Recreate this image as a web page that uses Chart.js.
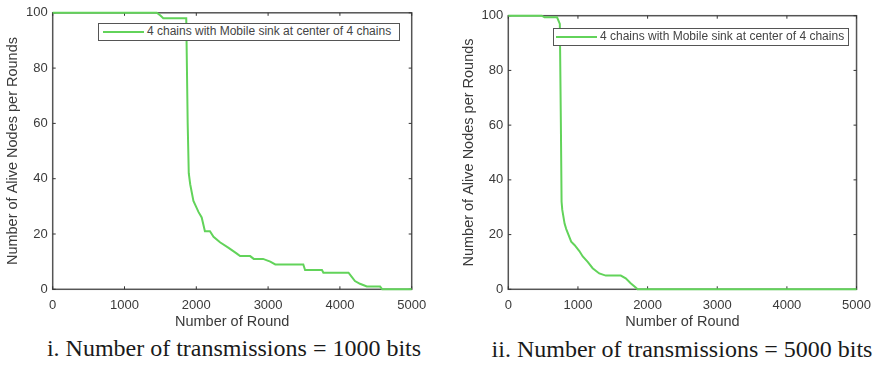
<!DOCTYPE html>
<html>
<head>
<meta charset="utf-8">
<script src="https://cdn.jsdelivr.net/npm/chart.js@4.4.1/dist/chart.umd.min.js"></script>
<style>
  html, body { margin: 0; padding: 0; background: #fff; }
  #page { position: relative; width: 879px; height: 368px; overflow: hidden; }
  .box { position: absolute; top: 0; height: 335px; }
  .legend {
    position: absolute; background: #fff; border: 1.5px solid #555;
    font-family: "Liberation Sans", Arial, sans-serif; font-size: 12px; color: #444;
    box-sizing: border-box; white-space: nowrap;
  }
  .legend .swatch { position: absolute; top: 7px; height: 2px; width: 41px; background: #62d35a; }
  .legend .txt { position: absolute; top: 0px; line-height: 15px; }
  .caption {
    position: absolute; font-family: "Liberation Serif", "Times New Roman", serif;
    font-size: 24px; color: #1a1a1a; white-space: nowrap; transform: translateX(-50%);
  }
</style>
</head>
<body>
<div id="page">
  <div class="box" style="left:0; width:440px;"><canvas id="chartA"></canvas></div>
  <div class="box" style="left:440px; width:439px;"><canvas id="chartB"></canvas></div>

  <div class="legend" style="left:98px; top:23px; width:302px; height:18px;">
    <span class="swatch" style="left:4px;"></span>
    <span class="txt" style="left:48px;">4 chains with Mobile sink at center of 4 chains</span>
  </div>
  <div class="legend" style="left:553px; top:28px; width:296px; height:18px;">
    <span class="swatch" style="left:2px;"></span>
    <span class="txt" style="left:46px;">4 chains with Mobile sink at center of 4 chains</span>
  </div>

  <div class="caption" style="left:234px; top:335px;">i. Number of transmissions = 1000 bits</div>
  <div class="caption" style="left:682px; top:336px;">ii. Number of transmissions = 5000 bits</div>
</div>

<script>
// values
var seriesLabel = "4 chains with Mobile sink at center of 4 chains";
var xTicks = [0, 1000, 2000, 3000, 4000, 5000];
var yTicks = [0, 20, 40, 60, 80, 100];

// i. 1000 bits
var roundsA = [0, 1450, 1500, 1540, 1860, 1880, 1895, 1915, 1960, 2030, 2075, 2120, 2190, 2240, 2330, 2450, 2560, 2610, 2750, 2800, 2930, 3030, 3100, 3490, 3515, 3750, 3770, 4120, 4165, 4210, 4280, 4375, 4560, 4590, 5000];
var aliveA = [100, 100, 99, 98, 98, 60, 42, 38, 32, 28, 26, 21, 21, 19, 17, 15, 13, 12, 12, 11, 11, 10, 9, 9, 7, 7, 6, 6, 4.5, 3, 2, 1, 1, 0, 0];

// ii. 5000 bits
var roundsB = [0, 480, 520, 700, 740, 755, 765, 775, 808, 832, 903, 950, 1020, 1069, 1140, 1211, 1306, 1400, 1615, 1686, 1757, 1829, 1855, 5000];
var aliveB = [100, 100, 99.4, 99.4, 97, 60, 32, 29, 24, 22, 17.4, 16.2, 14, 12, 10, 7.7, 5.8, 5, 5, 4, 2.2, 0.7, 0, 0];

var lineColor = "#62d35a";
var textColor = "#3a3a3a";

// MATLAB style box with inward ticks
var framePlugin = {
  id: "frame",
  beforeDatasetsDraw: function (chart) {
    var ctx = chart.ctx;
    var a = chart.chartArea;
    var xs = chart.scales.x;
    var ys = chart.scales.y;
    ctx.save();
    ctx.strokeStyle = "#555";
    ctx.lineWidth = 1.5;
    ctx.strokeRect(a.left, a.top, a.right - a.left, a.bottom - a.top);
    ctx.lineWidth = 1;
    ctx.strokeStyle = "#333";
    ctx.beginPath();
    xTicks.forEach(function (v) {
      var px = xs.getPixelForValue(v);
      ctx.moveTo(px, a.bottom); ctx.lineTo(px, a.bottom - 3);
      ctx.moveTo(px, a.top); ctx.lineTo(px, a.top + 3);
    });
    yTicks.forEach(function (v) {
      var py = ys.getPixelForValue(v);
      ctx.moveTo(a.left, py); ctx.lineTo(a.left + 3, py);
      ctx.moveTo(a.right, py); ctx.lineTo(a.right - 3, py);
    });
    ctx.stroke();
    ctx.restore();
  },
};

function plainLabel(value) {
  return String(value);
}

function makeChart(id, rounds, alive, pad, yWidth, yTitlePad) {
  var points = rounds.map(function (r, i) {
    return { x: r, y: alive[i] };
  });
  return new Chart(document.getElementById(id), {
    type: "line",
    data: {
      datasets: [
        {
          label: seriesLabel,
          data: points,
          borderColor: lineColor,
          borderWidth: 2,
          pointRadius: 0,
          tension: 0,
          clip: 3,
        },
      ],
    },
    options: {
      responsive: true,
      maintainAspectRatio: false,
      animation: false,
      layout: { padding: pad },
      plugins: { legend: { display: false }, tooltip: { enabled: false } },
      scales: {
        x: {
          type: "linear",
          min: 0,
          max: 5000,
          afterBuildTicks: function (s) {
            s.ticks = xTicks.map(function (v) { return { value: v }; });
          },
          afterFit: function (s) { s.height = 45.7; },
          grid: { display: false, drawTicks: false },
          border: { display: false },
          ticks: {
            padding: 8,
            maxRotation: 0,
            color: textColor,
            callback: plainLabel,
            font: { family: "Liberation Sans", size: 13 },
          },
          title: {
            display: true,
            text: "Number of Round",
            color: textColor,
            padding: { top: 0, bottom: 4 },
            font: { family: "Liberation Sans", size: 14.5 },
          },
        },
        y: {
          min: 0,
          max: 100,
          afterBuildTicks: function (s) {
            s.ticks = yTicks.map(function (v) { return { value: v }; });
          },
          afterFit: function (s) { s.width = yWidth; },
          grid: { display: false, drawTicks: false },
          border: { display: false },
          ticks: {
            padding: 5,
            color: textColor,
            callback: plainLabel,
            font: { family: "Liberation Sans", size: 13 },
          },
          title: {
            display: true,
            text: "Number of Alive Nodes per Rounds",
            color: textColor,
            padding: { top: yTitlePad, bottom: 0 },
            font: { family: "Liberation Sans", size: 14.5 },
          },
        },
      },
    },
    plugins: [framePlugin],
  });
}

makeChart("chartA", roundsA, aliveA, { left: 0, top: 11.7, right: 28.3, bottom: 0 }, 52.7, 4.5);
makeChart("chartB", roundsB, aliveB, { left: 20, top: 15.7, right: 19.7, bottom: 0 }, 48.3, 0);
</script>
</body>
</html>
